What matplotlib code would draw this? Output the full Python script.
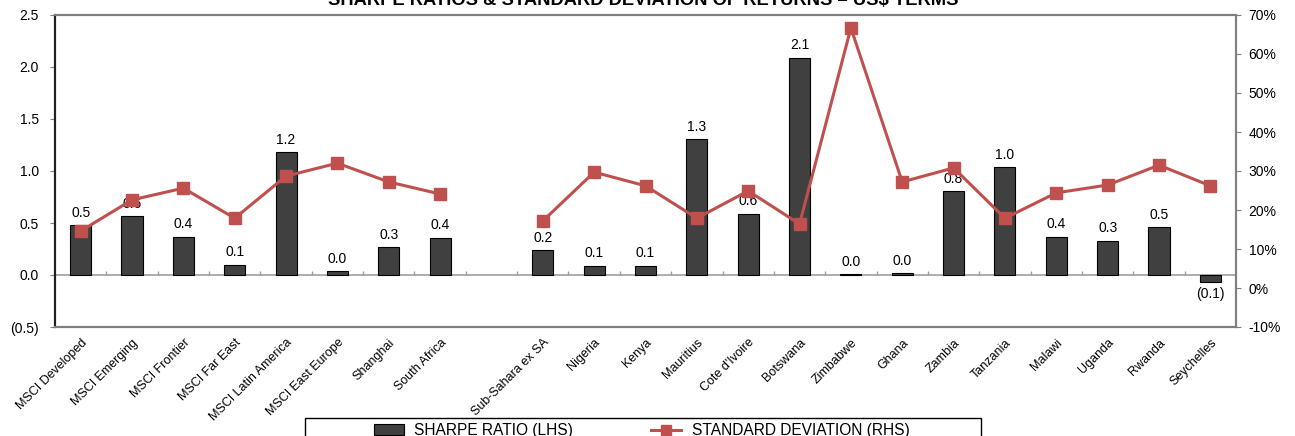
import numpy as np
import matplotlib
matplotlib.use("Agg")
import matplotlib.pyplot as plt
from matplotlib.lines import Line2D
from matplotlib.patches import Patch, Rectangle

plt.rcParams["font.family"] = ["Liberation Sans", "DejaVu Sans"]

# -------------------------
# Data
# -------------------------
categories = ["MSCI Developed", "MSCI Emerging", "MSCI Frontier", "MSCI Far East",
              "MSCI Latin America", "MSCI East Europe", "Shanghai", "South Africa", "",
              "Sub-Sahara ex SA", "Nigeria", "Kenya", "Mauritius", "Cote d'Ivoire",
              "Botswana", "Zimbabwe", "Ghana", "Zambia", "Tanzania", "Malawi",
              "Uganda", "Rwanda", "Seychelles"]
sharpe = [0.48, 0.57, 0.37, 0.10, 1.18, 0.04, 0.27, 0.36, np.nan,
          0.24, 0.09, 0.09, 1.31, 0.59, 2.09, 0.01, 0.02, 0.81, 1.04, 0.37,
          0.33, 0.46, -0.07]
std_dev = [14.6, 22.6, 25.6, 17.9, 28.7, 32.0, 27.2, 24.1, np.nan,
           17.2, 29.7, 26.2, 17.9, 24.9, 16.4, 66.7, 27.2, 30.8, 17.9, 24.4,
           26.4, 31.5, 26.2]

bar_color = "#404040"
line_color = "#C0504D"
grey = "#808080"
W, H = 1295, 436

x = np.arange(len(categories))

fig = plt.figure(figsize=(W / 100, H / 100), dpi=100)
ax = fig.add_axes([55 / W, 1 - 327 / H, (1236 - 55) / W, (327 - 15) / H])
ax2 = ax.twinx()

# bars
ax.bar(x, sharpe, width=0.41, color=bar_color, edgecolor="black", linewidth=0.8, zorder=2)
for xi, v in zip(x, sharpe):
    if np.isnan(v):
        continue
    if v < 0:
        ax.text(xi, v - 0.05, f"({abs(v):.1f})", ha="center", va="top", fontsize=10, zorder=5)
    else:
        ax.text(xi, v + 0.05, f"{v:.1f}", ha="center", va="bottom", fontsize=10, zorder=5)

# zero line with category separators
ax.axhline(0, color="#A0A0A0", linewidth=1.2, zorder=1)
ax.vlines(x[1:] - 0.5, 0, 0.04, color="#A0A0A0", linewidth=1.0, zorder=1)

ax.set_xlim(-0.5, len(categories) - 0.5)
ax.set_ylim(-0.5, 2.5)
ax.set_yticks(np.arange(-0.5, 2.51, 0.5))
ax.set_yticklabels(["(0.5)"] + [f"{t:.1f}" for t in np.arange(0, 2.51, 0.5)])
ax.set_xticks(x)
ax.set_xticklabels(categories, rotation=45, ha="right", rotation_mode="anchor", fontsize=9)
ax.tick_params(axis="x", length=0, pad=7)
ax.tick_params(axis="y", labelsize=10, length=3.6, color=grey, direction="out", pad=8)

# standard deviation line on right axis (drawn over the bars)
ax2.plot(x, std_dev, color=line_color, linewidth=2.2, marker="s", markersize=8, zorder=4)
ax2.set_ylim(-10, 70)
ax2.set_yticks(np.arange(-10, 71, 10))
ax2.set_yticklabels([f"{t}%" for t in range(-10, 71, 10)])
ax2.tick_params(axis="y", labelsize=10, length=3.6, color=grey, direction="out", pad=5.5)

for a in (ax, ax2):
    for side in ("top", "bottom", "right"):
        a.spines[side].set_color(grey)
        a.spines[side].set_linewidth(1.5)
    a.spines["left"].set_color("#202020")
    a.spines["left"].set_linewidth(1.5)

fig.text(0.497, 1 - 5 / H, "SHARPE RATIOS & STANDARD DEVIATION OF RETURNS \u2013 US$ TERMS",
         ha="center", va="baseline", fontsize=13.2, fontweight="bold")

# legend box, running off the bottom edge like the reference
fig.patches.append(Rectangle((305 / W, 1 - 450 / H), (981 - 305) / W, 32 / H,
                             transform=fig.transFigure, facecolor="white",
                             edgecolor="black", linewidth=1.0))
handles = [Patch(facecolor=bar_color, edgecolor="black", linewidth=0.8),
           Line2D([0], [0], color=line_color, linewidth=2.2, marker="s", markersize=7)]
fig.legend(handles, ["SHARPE RATIO (LHS)", "STANDARD DEVIATION (RHS)"],
           loc="upper left", bbox_to_anchor=(374 / W, 1 - 423 / H), ncol=2,
           fontsize=11.2, frameon=False, borderpad=0, borderaxespad=0,
           handlelength=1.9, handletextpad=0.7, columnspacing=5.0)

fig.savefig("out.png", dpi=100)
